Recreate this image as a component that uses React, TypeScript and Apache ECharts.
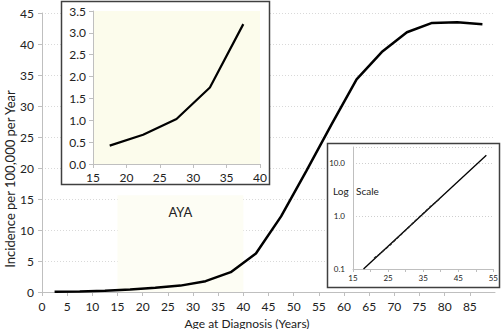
import React, { useEffect, useRef } from "react";
import * as echarts from "echarts";

const mainAges = [2.5, 7.5, 12.5, 17.5, 22.5, 27.5, 32.5, 37.5, 42.5, 47.5, 52.5, 57.5, 62.5, 67.5, 72.5, 77.5, 82.5, 87.5];
const mainIncidence = [0.05, 0.1, 0.2, 0.42, 0.67, 1.03, 1.75, 3.2, 6.2, 12.2, 19.5, 27, 34.3, 38.7, 41.9, 43.4, 43.5, 43.2];

const ayaAges = [17.5, 22.5, 27.5, 32.5, 37.5];
const ayaIncidence = [0.42, 0.67, 1.03, 1.75, 3.2];

const logFitAges = [18, 53];
const logFitValues = [0.1, 14];
const logObsAges = [21, 22.5, 24, 25.5, 34, 35.5, 37, 38.5, 40];
const logObsValues = [0.16, 0.19, 0.23, 0.28, 0.97, 1.2, 1.5, 1.8, 2.2];
const logMinorGrid = [0.2, 0.3, 0.4, 0.5, 0.6, 0.7, 0.8, 0.9, 2, 3, 4, 5, 6, 7, 8, 9];

const FONT = "Lato, 'Open Sans', sans-serif";

export default function App() {
  const ref = useRef<HTMLDivElement>(null);
  useEffect(() => {
    if (!ref.current) return;
    const chart = echarts.init(ref.current, null, { renderer: "svg" });
    const zip = (a: number[], b: number[]) => a.map((x, i) => [x, b[i]]);
    const isDecade = (v: number) => {
      const l = Math.log10(v);
      return Math.abs(l - Math.round(l)) < 1e-6 && v < 15;
    };
    chart.setOption({
      animation: false,
      backgroundColor: "#ffffff",
      textStyle: { fontFamily: FONT },
      grid: [
        { left: 42, right: 6, top: 13, bottom: 37, z: 0 },
        { left: 93, right: 241, top: 11, bottom: 165, z: 11, show: true, backgroundColor: "#fcfcec", borderWidth: 0 },
        { left: 353, right: 6, top: 147, bottom: 60, z: 11, show: true, backgroundColor: "#ffffff", borderWidth: 0 },
      ],
      xAxis: [
        {
          gridIndex: 0, type: "value", min: 0, max: 90, interval: 5,
          axisLine: { lineStyle: { color: "#bfbfbf", width: 1 } },
          axisTick: { show: true, length: 4, lineStyle: { color: "#bfbfbf" } },
          axisLabel: { color: "#222", fontSize: 12, fontFamily: FONT, margin: 8, showMaxLabel: false },
          splitLine: { show: false },
        },
        {
          gridIndex: 1, type: "value", min: 15, max: 40, interval: 5, z: 12,
          axisLine: { lineStyle: { color: "#bfbfbf" } },
          axisTick: { show: true, length: 4, lineStyle: { color: "#bfbfbf" } },
          axisLabel: { color: "#222", fontSize: 12, fontFamily: FONT, margin: 7 },
          splitLine: { show: false },
        },
        {
          gridIndex: 2, type: "value", min: 15, max: 55, interval: 5, z: 12,
          axisLine: { lineStyle: { color: "#bfbfbf" } },
          axisTick: { show: true, length: 3, lineStyle: { color: "#bfbfbf" } },
          axisLabel: {
            color: "#222", fontSize: 8, fontFamily: FONT, margin: 5,
            formatter: (v: number) => (Math.round(v) % 10 === 5 ? String(Math.round(v)) : ""),
          },
          splitLine: { show: false },
        },
      ],
      yAxis: [
        {
          gridIndex: 0, type: "value", min: 0, max: 45, interval: 5,
          axisLine: { show: true, lineStyle: { color: "#bfbfbf" } },
          axisTick: { show: true, length: 4, lineStyle: { color: "#bfbfbf" } },
          axisLabel: { color: "#222", fontSize: 12, fontFamily: FONT, margin: 8 },
          splitLine: { show: true, lineStyle: { color: "#d9d9d9", type: [1, 2] } },
        },
        {
          gridIndex: 1, type: "value", min: 0, max: 3.5, interval: 0.5, z: 12,
          axisLine: { show: true, lineStyle: { color: "#bfbfbf" } },
          axisTick: { show: true, length: 4, lineStyle: { color: "#bfbfbf" } },
          axisLabel: { color: "#222", fontSize: 12, fontFamily: FONT, margin: 7, formatter: (v: number) => v.toFixed(1) },
          splitLine: { show: false },
        },
        {
          gridIndex: 2, type: "log", logBase: 10, min: 0.1, max: 20, z: 12,
          axisLine: { show: true, lineStyle: { color: "#bfbfbf" } },
          axisTick: { show: false },
          axisLabel: {
            color: "#222", fontSize: 8, fontFamily: FONT, margin: 8,
            formatter: (v: number) => (isDecade(v) ? v.toFixed(1) : ""),
          },
          splitLine: { show: true, lineStyle: { color: "#cfcfcf", type: [1, 2] } },
        },
      ],
      series: [
        {
          type: "line", xAxisIndex: 0, yAxisIndex: 0, z: 3,
          data: zip(mainAges, mainIncidence),
          symbol: "none",
          lineStyle: { color: "#000", width: 2.5 },
          markArea: {
            silent: true,
            itemStyle: { color: "#fdfdf4" },
            label: { show: true, position: "insideTop", distance: 10, color: "#222", fontSize: 13, fontFamily: FONT },
            data: [[{ name: "AYA", xAxis: 15, yAxis: 0 }, { xAxis: 40, yAxis: 15.6 }]],
          },
        },
        {
          type: "line", xAxisIndex: 1, yAxisIndex: 1, z: 13,
          data: zip(ayaAges, ayaIncidence),
          symbol: "none",
          lineStyle: { color: "#000", width: 2.2 },
        },
        {
          type: "line", xAxisIndex: 2, yAxisIndex: 2, z: 13,
          data: zip(logFitAges, logFitValues),
          symbol: "none",
          lineStyle: { color: "#000", width: 1.3 },
          markLine: {
            silent: true, symbol: "none", label: { show: false },
            lineStyle: { color: "#d6d6d6", type: [1, 2], width: 1 },
            data: logMinorGrid.map((v) => ({ yAxis: v })),
          },
        },
        {
          type: "line", xAxisIndex: 2, yAxisIndex: 2, z: 13,
          data: zip(logObsAges, logObsValues),
          symbol: "none",
          lineStyle: { color: "#222", width: 1.3, type: [3, 2] },
        },
      ],
      graphic: [
        { type: "rect", z: 10, shape: { x: 61.5, y: 1.5, width: 208, height: 183 }, style: { fill: "#fff", stroke: "#404040", lineWidth: 1.5 } },
        { type: "rect", z: 10, shape: { x: 327.5, y: 143.5, width: 172, height: 144 }, style: { fill: "#fff", stroke: "#404040", lineWidth: 1.5 } },
        { type: "text", z: 20, x: 333, y: 191, style: { text: "Log", fill: "#222", fontSize: 10, fontFamily: FONT, verticalAlign: "middle" } },
        { type: "text", z: 20, x: 356, y: 191, style: { text: "Scale", fill: "#222", fontSize: 10, fontFamily: FONT, verticalAlign: "middle" } },
        { type: "text", z: 20, x: 247, y: 323, style: { text: "Age at Diagnosis (Years)", fill: "#222", fontSize: 12, fontFamily: FONT, align: "center", verticalAlign: "middle" } },
        { type: "text", z: 20, x: 10, y: 179, rotation: Math.PI / 2, style: { text: "Incidence per 100,000 per Year", fill: "#222", fontSize: 13, fontFamily: FONT, align: "center", verticalAlign: "middle" } },
      ],
    });
    return () => chart.dispose();
  }, []);
  return <div ref={ref} style={{ width: 501, height: 329, position: "absolute", left: 0, top: 0 }} />;
}
